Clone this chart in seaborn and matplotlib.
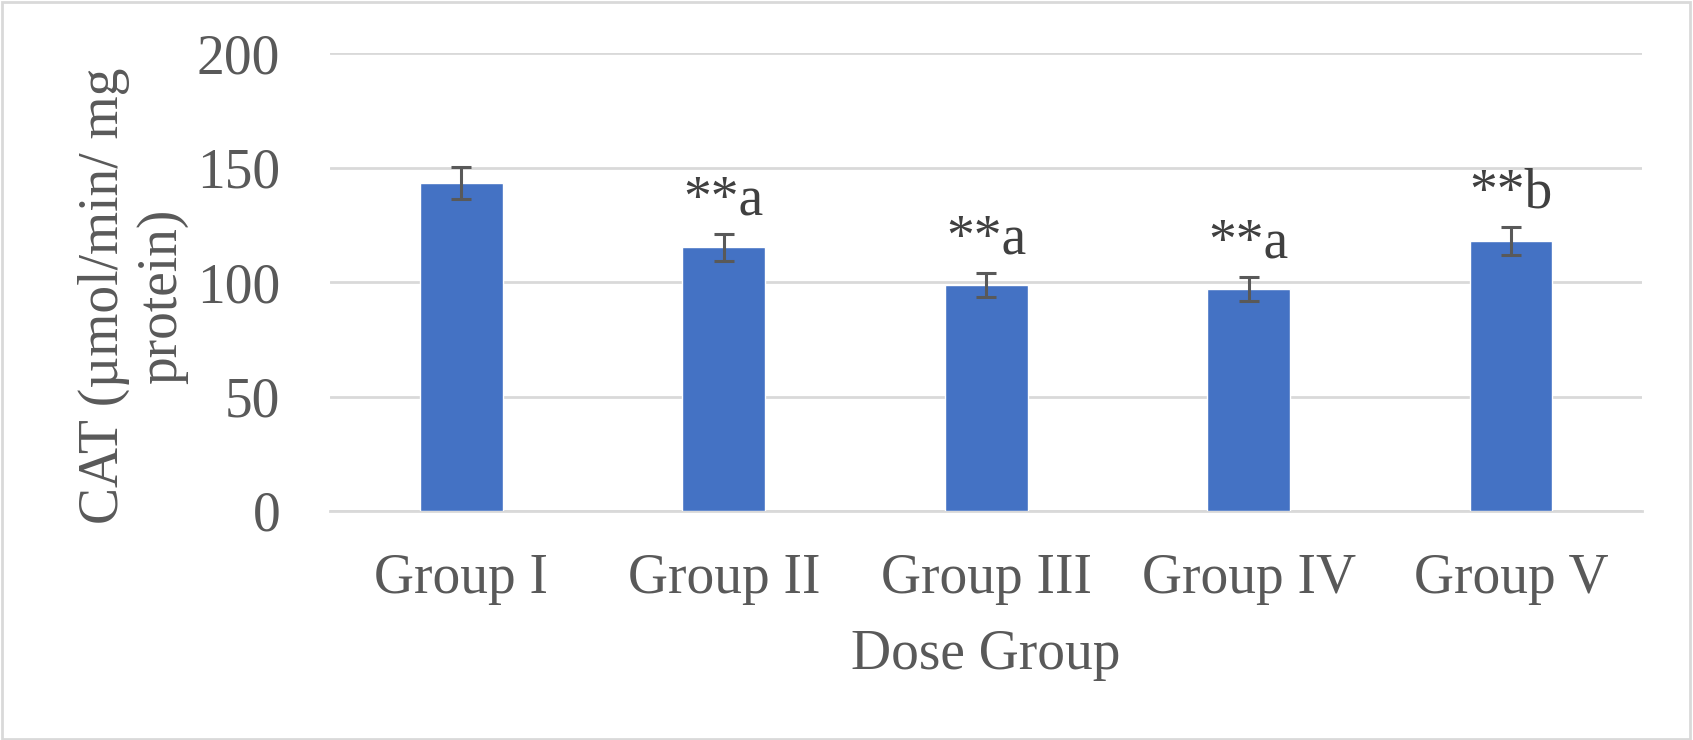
import matplotlib
matplotlib.use("Agg")
import matplotlib.pyplot as plt
import pandas as pd
import seaborn as sns
from matplotlib.patches import Rectangle

groups = ["Group I", "Group II", "Group III", "Group IV", "Group V"]
cat_mean = [143.2, 115.3, 98.7, 97.1, 117.9]
cat_sd = [7.0, 5.9, 5.2, 5.2, 6.2]
marks = ["", "**a", "**a", "**a", "**b"]

df = pd.DataFrame({"Group": groups, "CAT": cat_mean, "SD": cat_sd})

sns.set_style("white")
plt.rcParams["font.family"] = ["Liberation Serif", "DejaVu Serif"]

fig = plt.figure(figsize=(16.93, 7.4), dpi=100)
ax = fig.add_axes([0.195, 0.3095, 0.775, 0.6185])

sns.barplot(data=df, x="Group", y="CAT", color="#4472C4", width=0.315,
            errorbar=None, saturation=1, ax=ax, zorder=3)
ax.errorbar(x=df["Group"], y=df["CAT"], yerr=df["SD"], fmt="none",
            ecolor="#595959", elinewidth=2.2, capsize=7.5, capthick=2.2, zorder=4)

for i in range(len(groups)):
    if marks[i]:
        ax.annotate(marks[i], xy=(i, cat_mean[i] + cat_sd[i]), xytext=(0, 14),
                    textcoords="offset points", ha="center", va="baseline",
                    fontsize=40, color="#404040")

ax.set_xlim(-0.5, 4.5)
ax.set_ylim(0, 200)
ax.set_yticks([0, 50, 100, 150, 200])
ax.yaxis.grid(True, color="#D9D9D9", linewidth=2, zorder=0)
ax.set_axisbelow(True)
for s in ["top", "right", "left"]:
    ax.spines[s].set_visible(False)
ax.spines["bottom"].set_color("#D9D9D9")
ax.spines["bottom"].set_linewidth(2)
ax.tick_params(axis="both", length=0, labelsize=40, labelcolor="#595959")
ax.tick_params(axis="y", pad=36)
ax.tick_params(axis="x", pad=30)

ax.set_ylabel("CAT (µmol/min/ mg\nprotein)", fontsize=40, color="#595959",
              linespacing=1.15)
ax.yaxis.set_label_coords(-0.108, 0.47)
ax.set_xlabel("Dose Group", fontsize=40, color="#595959")
ax.xaxis.set_label_coords(0.5, -0.257)

fig.patches.append(Rectangle((0.001, 0.002), 0.997, 0.995, transform=fig.transFigure,
                             fill=False, edgecolor="#D9D9D9", linewidth=2))

fig.savefig("out.png", dpi=100)
